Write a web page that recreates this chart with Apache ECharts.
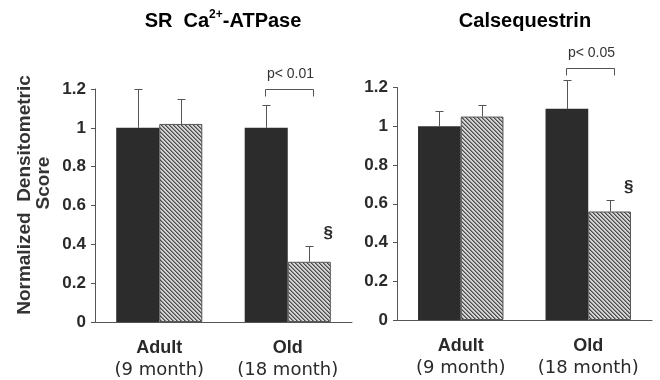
<!DOCTYPE html>
<html>
<head>
<meta charset="utf-8">
<script src="https://cdn.jsdelivr.net/npm/echarts@6.0.0/dist/echarts.min.js"></script>
<style>html,body{margin:0;padding:0;background:#fff}#chart{width:660px;height:380px}</style>
</head>
<body>
<div id="chart"></div>
<script>
var groups = ['Adult', 'Old'];
var groupAges = ['(9 month)', '(18 month)'];
var yTicks = [0, 0.2, 0.4, 0.6, 0.8, 1, 1.2];

// SR Ca2+-ATPase
var atpaseDark = [1.0, 1.0];
var atpaseDarkErr = [1.2, 1.12];
var atpaseHatch = [1.02, 0.31];
var atpaseHatchErr = [1.15, 0.39];

// Calsequestrin
var casqDark = [1.0, 1.09];
var casqDarkErr = [1.08, 1.24];
var casqHatch = [1.05, 0.56];
var casqHatchErr = [1.11, 0.62];

// significance bracket (group index, level, label)
var sigGroup = 1;
var sigLevel = [1.2, 1.3];
var sigText = ['p< 0.01', 'p< 0.05'];

var AXIS = '#555';
var TXT = '#2a2a2a';

function hatch() {
    var c = document.createElement('canvas');
    c.width = 4; c.height = 4;
    var g = c.getContext('2d');
    g.fillStyle = '#d4d4d4';
    g.fillRect(0, 0, 4, 4);
    for (var i = 0; i < 4; i++) {
        g.fillStyle = '#4a4a4a';
        g.fillRect(i, i, 1, 1);
        g.fillStyle = '#8a8a8a';
        g.fillRect((i + 1) % 4, i, 1, 1);
    }
    return c;
}
var hatchFill = { image: hatch(), repeat: 'repeat' };

function crisp(v) { return Math.round(v) + 0.5; }

function errorItem(params, api) {
    var bw = api.size([1, 0])[0] * 0.67 / 2;
    var side = api.value(3);
    var base = api.coord([api.value(0), api.value(1)]);
    var top = api.coord([api.value(0), api.value(2)]);
    var x = crisp(base[0] + side * bw / 2);
    var y = crisp(top[1]);
    return {
        type: 'group',
        children: [
            { type: 'line', shape: { x1: x, y1: base[1], x2: x, y2: y }, style: { stroke: AXIS, lineWidth: 1 } },
            { type: 'line', shape: { x1: x - 4, y1: y, x2: x + 4, y2: y }, style: { stroke: AXIS, lineWidth: 1 } }
        ]
    };
}

function sigRenderer(label) {
    return function (params, api) {
        var bw = api.size([1, 0])[0] * 0.67 / 2;
        var c = api.coord([api.value(0), api.value(1)]);
        var e = api.coord([api.value(0), api.value(2)]);
        var x1 = crisp(c[0] - bw / 2 - 1), x2 = crisp(c[0] + bw / 2 + 4), y = crisp(c[1]);
        return {
            type: 'group',
            children: [
                { type: 'polyline', shape: { points: [[x1, y + 7], [x1, y], [x2, y], [x2, y + 7]] },
                  style: { stroke: AXIS, fill: null, lineWidth: 1 } },
                { type: 'text', x: (x1 + x2) / 2 + 1, y: y - 15,
                  style: { text: label, font: '14px "Liberation Sans"', fill: '#333', align: 'center', verticalAlign: 'middle' } },
                { type: 'text', x: c[0] + bw / 2 + 19, y: e[1] - 13,
                  style: { text: '§', font: 'bold 17px "Liberation Sans"', fill: TXT, align: 'center', verticalAlign: 'middle' } }
            ]
        };
    };
}

function xAxis(gi) {
    return {
        gridIndex: gi, type: 'category', data: groups,
        axisLine: { lineStyle: { color: AXIS, width: 1 } },
        axisTick: { length: 4, lineStyle: { color: AXIS } },
        axisLabel: {
            interval: 0, margin: 15,
            formatter: function (v, i) { return '{a|' + v + '}\n{b|' + groupAges[i] + '}'; },
            rich: {
                a: { fontSize: 18, fontWeight: 'bold', color: TXT, fontFamily: 'Liberation Sans', lineHeight: 22 },
                b: { fontSize: 18, color: TXT, fontFamily: 'DejaVu Sans', lineHeight: 22 }
            }
        }
    };
}

function yAxis(gi) {
    return {
        gridIndex: gi, type: 'value', min: 0, max: 1.2, interval: 0.2,
        axisLine: { show: true, lineStyle: { color: AXIS, width: 1 } },
        axisTick: { show: true, length: 4, lineStyle: { color: AXIS }, customValues: yTicks },
        splitLine: { show: false },
        axisLabel: { color: TXT, fontSize: 17, fontWeight: 'bold', fontFamily: 'Liberation Sans', margin: 9, customValues: yTicks }
    };
}

function panel(gi, dark, darkErr, hatchV, hatchErr, level, label) {
    var errData = [];
    for (var i = 0; i < groups.length; i++) {
        errData.push([i, dark[i], darkErr[i], -1]);
        errData.push([i, hatchV[i], hatchErr[i], 1]);
    }
    return [
        { type: 'bar', xAxisIndex: gi, yAxisIndex: gi, data: dark, barGap: '0%', barCategoryGap: '33%',
          itemStyle: { color: '#2c2c2c' }, silent: true },
        { type: 'bar', xAxisIndex: gi, yAxisIndex: gi, data: hatchV, barGap: '0%', barCategoryGap: '33%',
          itemStyle: { color: hatchFill, borderColor: '#555', borderWidth: 1 }, silent: true },
        { type: 'custom', xAxisIndex: gi, yAxisIndex: gi, data: errData, renderItem: errorItem, clip: false, silent: true, z: 3 },
        { type: 'custom', xAxisIndex: gi, yAxisIndex: gi, data: [[sigGroup, level, hatchErr[sigGroup]]],
          renderItem: sigRenderer(label), clip: false, silent: true, z: 3 }
    ];
}

var titleRich = {
    a: { fontSize: 20, fontWeight: 'bold', color: '#000', fontFamily: 'Liberation Sans', lineHeight: 24 },
    s: { fontSize: 12, fontWeight: 'bold', color: '#000', fontFamily: 'Liberation Sans', lineHeight: 24, verticalAlign: 'top' }
};

var myChart = echarts.init(document.getElementById('chart'));
var option = {
    backgroundColor: '#fff',
    animation: false,
    title: [
        { text: '{a|SR  Ca}{s|2+}{a|-ATPase}', left: 223, top: 9, textAlign: 'center', padding: 0, textStyle: { rich: titleRich } },
        { text: '{a|Calsequestrin}', left: 525, top: 9, textAlign: 'center', padding: 0, textStyle: { rich: titleRich } }
    ],
    grid: [
        { left: 95, right: 308, top: 89, bottom: 58 },
        { left: 397, right: 8, top: 87.5, bottom: 60 }
    ],
    xAxis: [xAxis(0), xAxis(1)],
    yAxis: [yAxis(0), yAxis(1)],
    graphic: [
        { type: 'text', x: 25, y: 195, rotation: Math.PI / 2,
          style: { text: 'Normalized  Densitometric', font: 'bold 19px "Liberation Sans"', fill: '#333', align: 'center', verticalAlign: 'middle' } },
        { type: 'text', x: 44, y: 183, rotation: Math.PI / 2,
          style: { text: 'Score', font: 'bold 19px "Liberation Sans"', fill: '#333', align: 'center', verticalAlign: 'middle' } }
    ],
    series: panel(0, atpaseDark, atpaseDarkErr, atpaseHatch, atpaseHatchErr, sigLevel[0], sigText[0])
        .concat(panel(1, casqDark, casqDarkErr, casqHatch, casqHatchErr, sigLevel[1], sigText[1]))
};
myChart.setOption(option);
</script>
</body>
</html>
